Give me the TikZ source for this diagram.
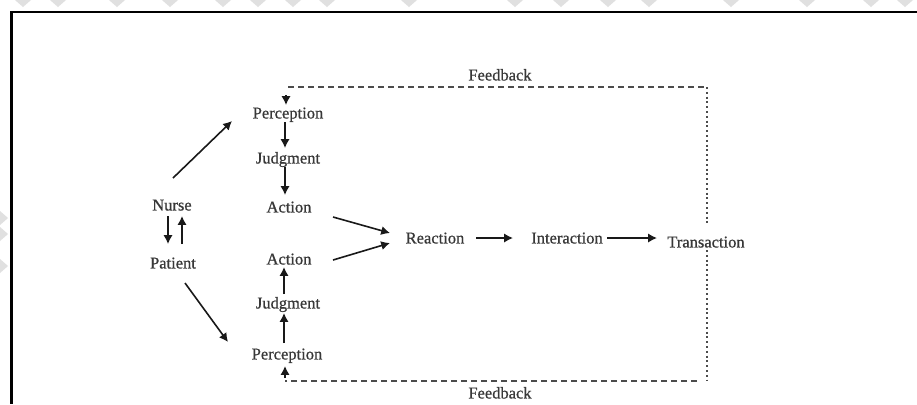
\documentclass[tikz,border=0pt]{standalone}
\usepackage{fontspec}
\setmainfont{Liberation Serif}
\newfontfamily\lblfont{Liberation Serif}[FakeBold=0.7]
\usetikzlibrary{arrows.meta,calc}
\begin{document}
\begin{tikzpicture}[x=0.5pt,y=-0.5pt,
  lbl/.style={inner sep=0pt,text height=5.45pt,text depth=0pt,font=\lblfont\fontsize{8.25}{10}\selectfont,text=black!78},
  arr/.style={line width=0.8pt,black!90,-{Latex[length=4.4pt,width=4.6pt]}},
  fbdash/.style={line width=0.65pt,black!70,dash pattern=on 3pt off 2pt},
  fbdot/.style={line width=0.95pt,black!70,dash pattern=on 1pt off 1.4pt},
  wm/.style={fill=black!12,draw=none}]
\useasboundingbox (0,0) rectangle (917,404);
\fill[white] (0,0) rectangle (917,404);
% watermark fragments
\foreach \x in {23,58,117,170,223,258,293,327,409,515,561,608,649,731,807,871,905}
  \fill[wm] (\x-8,0) -- (\x+8,0) -- (\x,7) -- cycle;
\foreach \y in {218,234,266}
  \fill[wm] (0,\y-7) -- (8,\y) -- (0,\y+7) -- cycle;
% frame
\draw[line width=0.6pt] (10,12) -- (917,12);
\draw[line width=1.5pt] (11,11.5) -- (11,404);
% nodes
\node[lbl] (FB1) at (500,75) {Feedback};
\node[lbl] (FB2) at (500,393) {Feedback};
\node[lbl] (P1) at (288,113) {Perception};
\node[lbl] (J1) at (288,158) {Judgment};
\node[lbl] (A1) at (289,207) {Action};
\node[lbl] (Nurse) at (172,205) {Nurse};
\node[lbl] (Patient) at (173,263) {Patient};
\node[lbl] (A2) at (289,259) {Action};
\node[lbl] (J2) at (288,303) {Judgment};
\node[lbl] (P2) at (287,354) {Perception};
\node[lbl] (R) at (435,238) {Reaction};
\node[lbl] (I) at (567,238) {Interaction};
\node[lbl] (T) at (706,242) {Transaction};
% feedback loop
\coordinate (fbTL) at (288,87);
\coordinate (fbTR) at (707,87);
\coordinate (tN) at (707,225);
\coordinate (tS) at (707,250);
\coordinate (fbBR) at (707,381);
\coordinate (fbBE) at (697,381);
\coordinate (fbBL) at (285,381);
\coordinate (fb1in) at (286,95);
\coordinate (fb2in) at (285,378);
\draw[fbdash] (fbTL) -- (fbTR);
\draw[fbdot] (fbTR) -- (tN);
\draw[fbdot] (tS) -- (fbBR);
\draw[fbdash] (fbBE) -- (fbBL);
\draw[arr] (fb1in) -- ([shift={(-2,-8)}]P1.center);
\draw[arr] (fb2in) -- ([shift={(-2,12)}]P2.center);
% arrows
\draw[arr] ([shift={(1,-27)}]Nurse.center) -- ([shift={(-56,8)}]P1.center);
\draw[arr] ([shift={(12,20)}]Patient.center) -- ([shift={(-59,-12)}]P2.center);
\draw[arr] ([shift={(-4,11)}]Nurse.center) -- ([shift={(-5,-19)}]Patient.center);
\draw[arr] ([shift={(9,-19)}]Patient.center) -- ([shift={(10,11)}]Nurse.center);
\draw[arr] ([shift={(-3,9)}]P1.center) -- ([shift={(-3,-10)}]J1.center);
\draw[arr] ([shift={(-3,9)}]J1.center) -- ([shift={(-4,-12)}]A1.center);
\draw[arr] ([shift={(-3,-11)}]P2.center) -- ([shift={(-4,10)}]J2.center);
\draw[arr] ([shift={(-4,-9)}]J2.center) -- ([shift={(-5,8)}]A2.center);
\draw[arr] ([shift={(44,10)}]A1.center) -- ([shift={(-45,-5)}]R.center);
\draw[arr] ([shift={(44,1)}]A2.center) -- ([shift={(-45,5)}]R.center);
\draw[arr] ([shift={(41,0)}]R.center) -- ([shift={(-54,0)}]I.center);
\draw[arr] ([shift={(40,0)}]I.center) -- ([shift={(-49,-4)}]T.center);
\end{tikzpicture}
\end{document}
